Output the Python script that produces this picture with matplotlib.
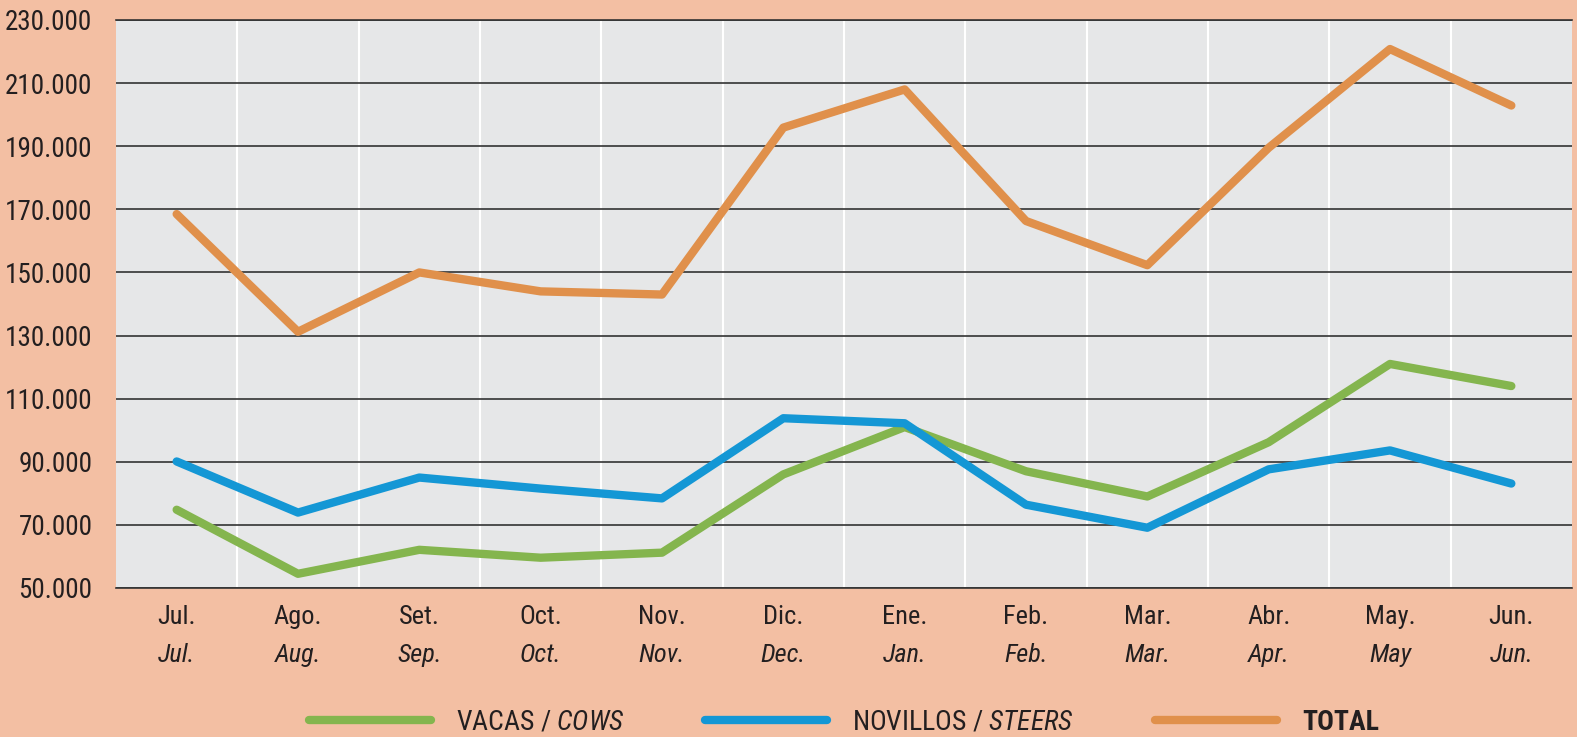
import matplotlib
matplotlib.use('Agg')
import matplotlib.pyplot as plt
from matplotlib.transforms import ScaledTranslation

# Data
months_es = ['Jul.', 'Ago.', 'Set.', 'Oct.', 'Nov.', 'Dic.', 'Ene.', 'Feb.', 'Mar.', 'Abr.', 'May.', 'Jun.']
months_en = ['Jul.', 'Aug.', 'Sep.', 'Oct.', 'Nov.', 'Dec.', 'Jan.', 'Feb.', 'Mar.', 'Apr.', 'May', 'Jun.']
cows = [74800, 54500, 62100, 59600, 61200, 86000, 101000, 87000, 79000, 96200, 121000, 114000]
steers = [90100, 73900, 85000, 81500, 78400, 103800, 102200, 76400, 69100, 87600, 93600, 83100]
total = [168500, 131200, 150000, 144000, 143000, 195900, 208000, 166300, 152300, 189500, 220800, 202900]
yticks = list(range(50000, 230001, 20000))

plt.rcParams['font.family'] = ['Roboto Condensed', 'DejaVu Sans']
plt.rcParams['mathtext.fontset'] = 'custom'
plt.rcParams['mathtext.rm'] = 'Roboto Condensed'
plt.rcParams['mathtext.it'] = 'Roboto Condensed:italic'

bg = '#F3BFA3'
ink = '#231F20'
fig = plt.figure(figsize=(15.77, 7.37), dpi=100, facecolor=bg)
ax = fig.add_axes([116 / 1577, 1 - 588 / 737, (1572 - 116) / 1577, (588 - 20) / 737])
ax.set_facecolor('#E6E7E8')

x = list(range(len(months_es)))
kw = dict(lw=6, solid_capstyle='round', solid_joinstyle='round', zorder=3)
l1, = ax.plot(x, cows, color='#84B54E', label=r'VACAS / $\it{COWS}$', **kw)
l2, = ax.plot(x, steers, color='#1497D5', label=r'NOVILLOS / $\it{STEERS}$', **kw)
l3, = ax.plot(x, total, color='#E0904B', label='TOTAL', **kw)

ax.set_xlim(-0.5, 11.5)
ax.set_ylim(50000, 230000)
ax.set_yticks(yticks)
ax.set_yticklabels([f'{v:,}'.replace(',', '.') for v in yticks], fontsize=19.5, color=ink)
ax.set_xticks(x)
ax.set_xticklabels(months_es, fontsize=19, color=ink)
ax.set_xticks([i + 0.5 for i in range(11)], minor=True)
ax.tick_params(axis='both', which='both', length=0)
ax.tick_params(axis='y', pad=17)
ax.tick_params(axis='x', pad=12)

ax.grid(True, axis='y', color='#333333', lw=1.2, zorder=1)
ax.grid(True, axis='x', which='minor', color='white', lw=1.5, zorder=1)
ax.set_axisbelow(True)
for s in ['left', 'right']:
    ax.spines[s].set_visible(False)
for s in ['top', 'bottom']:
    ax.spines[s].set_color('#333333')
    ax.spines[s].set_linewidth(1.2)

# English month labels (second line, italic)
off = ax.get_xaxis_transform() + ScaledTranslation(0, -0.67, fig.dpi_scale_trans)
for i, m in enumerate(months_en):
    ax.text(i, 0, m, transform=off, ha='center', va='center', fontsize=19,
            style='italic', color=ink)

leg = fig.legend(handles=[l1, l2, l3], loc='center', bbox_to_anchor=(0.535, 1 - 722 / 737),
                 ncol=3, frameon=False, fontsize=20, handlelength=4.4, handletextpad=0.9,
                 columnspacing=2.9)
for t in leg.get_texts():
    t.set_color(ink)
leg.get_texts()[2].set_fontweight('bold')

fig.savefig('out.png', dpi=100, facecolor=bg)
